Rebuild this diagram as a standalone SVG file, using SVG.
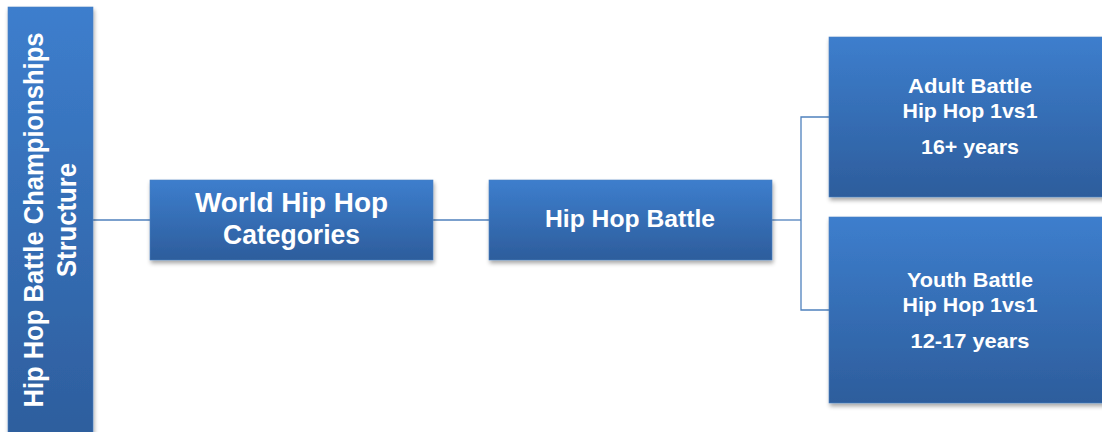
<svg xmlns="http://www.w3.org/2000/svg" width="1102" height="432" viewBox="0 0 1102 432">
<defs>
<linearGradient id="g" x1="0" y1="0" x2="0" y2="1">
<stop offset="0" stop-color="#3d7ecd"/>
<stop offset="1" stop-color="#2d5d9c"/>
</linearGradient>
<filter id="sh" x="-10%" y="-10%" width="120%" height="130%">
<feGaussianBlur in="SourceAlpha" stdDeviation="2"/>
<feOffset dx="1" dy="3" result="b"/>
<feComponentTransfer><feFuncA type="linear" slope="0.35"/></feComponentTransfer>
<feMerge><feMergeNode/><feMergeNode in="SourceGraphic"/></feMerge>
</filter>
</defs>
<style>
.box{fill:url(#g);stroke:#4a7fc0;stroke-width:0.6;filter:url(#sh)}
.t{font-family:"Liberation Sans",Arial,sans-serif;font-weight:bold;fill:#ffffff;text-anchor:middle}
.c{fill:none;stroke:#4f81bd;stroke-width:1.3}
</style>
<rect width="1102" height="432" fill="#ffffff"/>
<g id="connectors">
<line class="c" x1="93" y1="220" x2="150" y2="220"/>
<line class="c" x1="433" y1="220" x2="489" y2="220"/>
<polyline class="c" points="772,220 801,220"/>
<polyline class="c" points="829,117 801,117 801,310 829,310"/>
</g>
<g id="root">
<rect class="box" x="8" y="7" width="85" height="440"/>
<g transform="translate(0,220) rotate(-90)">
<text class="t" x="0" y="42.5" font-size="27" textLength="375" lengthAdjust="spacingAndGlyphs">Hip Hop Battle Championships</text>
<text class="t" x="0" y="75.5" font-size="27" textLength="114" lengthAdjust="spacingAndGlyphs">Structure</text>
</g>
</g>
<g id="categories">
<rect class="box" x="150" y="180" width="283" height="80"/>
<text class="t" x="291.5" y="212" font-size="27" textLength="193" lengthAdjust="spacingAndGlyphs">World Hip Hop</text>
<text class="t" x="291.5" y="244" font-size="27" textLength="137" lengthAdjust="spacingAndGlyphs">Categories</text>
</g>
<g id="battle">
<rect class="box" x="489" y="180" width="283" height="80"/>
<text class="t" x="630" y="227.3" font-size="24" textLength="170" lengthAdjust="spacingAndGlyphs">Hip Hop Battle</text>
</g>
<g id="adult">
<rect class="box" x="829" y="37" width="290" height="160"/>
<text class="t" x="970" y="92.7" font-size="20.5" textLength="124" lengthAdjust="spacingAndGlyphs">Adult Battle</text>
<text class="t" x="970" y="118" font-size="20.5" textLength="135" lengthAdjust="spacingAndGlyphs">Hip Hop 1vs1</text>
<text class="t" x="970" y="154" font-size="20.5" textLength="98" lengthAdjust="spacingAndGlyphs">16+ years</text>
</g>
<g id="youth">
<rect class="box" x="829" y="217" width="290" height="186"/>
<text class="t" x="970" y="286.7" font-size="20.5" textLength="126" lengthAdjust="spacingAndGlyphs">Youth Battle</text>
<text class="t" x="970" y="311.7" font-size="20.5" textLength="135" lengthAdjust="spacingAndGlyphs">Hip Hop 1vs1</text>
<text class="t" x="970" y="348" font-size="20.5" textLength="119" lengthAdjust="spacingAndGlyphs">12-17 years</text>
</g>
</svg>
